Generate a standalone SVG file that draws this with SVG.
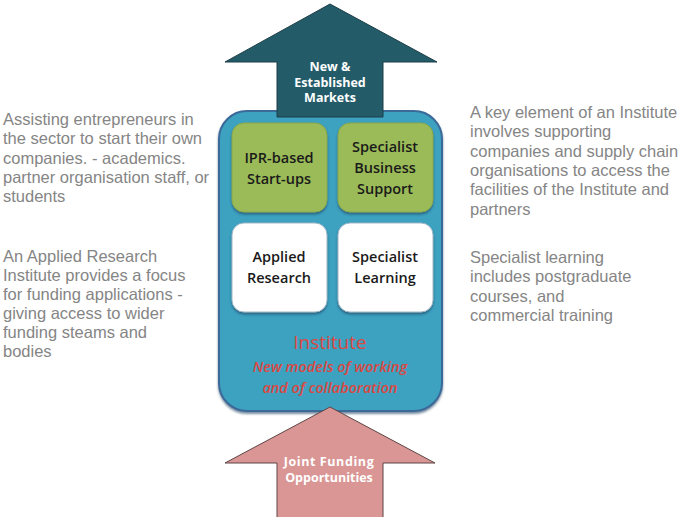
<svg xmlns="http://www.w3.org/2000/svg" width="678" height="517" viewBox="0 0 678 517">
  <style>
    .note { font-family: "Liberation Sans", Arial, sans-serif; font-size: 16.5px; fill: #858585; }
    .box-label { font-family: "Open Sans", "Noto Sans", sans-serif; font-size: 14.5px; font-weight: 600; fill: #1a1a1a; text-anchor: middle; }
    .arrow-label { font-family: "Open Sans", "Noto Sans", sans-serif; font-size: 12.5px; font-weight: 700; fill: #ffffff; text-anchor: middle; }
    .inst { font-family: "Open Sans", "Noto Sans", sans-serif; fill: #dc4842; text-anchor: middle; }
    .green { fill: #9bbb59; stroke: #87a74c; stroke-width: 1; }
    .white { fill: #ffffff; stroke: #9fb7c6; stroke-width: 1; }
  </style>
  <defs>
    <filter id="shadow" x="-10%" y="-10%" width="130%" height="130%">
      <feDropShadow dx="0" dy="2" stdDeviation="1" flood-color="#1f3f60" flood-opacity="0.6"/>
    </filter>
  </defs>

  <rect width="678" height="517" fill="#ffffff"/>

  <!-- side notes -->
  <g id="note-left-top" class="note">
    <text x="3" y="125">Assisting entrepreneurs in</text>
    <text x="3" y="144.3">the sector to start their own</text>
    <text x="3" y="163.6">companies. - academics.</text>
    <text x="3" y="183">partner organisation staff, or</text>
    <text x="3" y="202.3">students</text>
  </g>
  <g id="note-left-bottom" class="note">
    <text x="3" y="261.5">An Applied Research</text>
    <text x="3" y="280.5">Institute provides a focus</text>
    <text x="3" y="299.5">for funding applications -</text>
    <text x="3" y="318.5">giving access to wider</text>
    <text x="3" y="337.5">funding steams and</text>
    <text x="3" y="356.5">bodies</text>
  </g>
  <g id="note-right-top" class="note">
    <text x="470" y="118">A key element of an Institute</text>
    <text x="470" y="137.3">involves supporting</text>
    <text x="470" y="156.6">companies and supply chain</text>
    <text x="470" y="176">organisations to access the</text>
    <text x="470" y="195.3">facilities of the Institute and</text>
    <text x="470" y="214.6">partners</text>
  </g>
  <g id="note-right-bottom" class="note">
    <text x="470" y="263">Specialist learning</text>
    <text x="470" y="282.3">includes postgraduate</text>
    <text x="470" y="301.6">courses, and</text>
    <text x="470" y="321">commercial training</text>
  </g>

  <!-- institute container -->
  <g id="institute">
    <rect x="219" y="111" width="223" height="300" rx="28" fill="#3ea1c0" stroke="#3a6a99" stroke-width="2" filter="url(#shadow)"/>
    <text class="inst" x="330" y="349" font-size="19">Institute</text>
    <text class="inst" x="330" y="372" font-size="14.5" font-style="italic" font-weight="600">New models of working</text>
    <text class="inst" x="330" y="393" font-size="14.5" font-style="italic" font-weight="600">and of collaboration</text>
  </g>

  <!-- outgoing arrow -->
  <g id="markets">
    <polygon points="330,4 437,62 383,62 383,117 277,117 277,62 225,62" fill="#235b68" stroke="#1d3f48" stroke-width="1"/>
    <text class="arrow-label" x="330" y="71">New &amp;</text>
    <text class="arrow-label" x="330" y="86.5">Established</text>
    <text class="arrow-label" x="330" y="102">Markets</text>
  </g>

  <!-- incoming arrow -->
  <g id="funding">
    <polygon points="330,407 435,463 383,463 383,520 277,520 277,463 225,463" fill="#d99694" stroke="#5e4546" stroke-width="1"/>
    <text class="arrow-label" x="329" y="466" font-size="13" letter-spacing="0.6">Joint Funding</text>
    <text class="arrow-label" x="329" y="481.5" font-size="13">Opportunities</text>
  </g>

  <g id="ipr-startups">
    <rect class="green" x="232" y="123" width="95" height="89" rx="12" filter="url(#shadow)"/>
    <text class="box-label" x="279" y="163">IPR-based</text>
    <text class="box-label" x="279" y="184">Start-ups</text>
  </g>
  <g id="business-support">
    <rect class="green" x="338" y="123" width="95" height="89" rx="12" filter="url(#shadow)"/>
    <text class="box-label" x="385" y="152">Specialist</text>
    <text class="box-label" x="385" y="173">Business</text>
    <text class="box-label" x="385" y="194">Support</text>
  </g>
  <g id="applied-research">
    <rect class="white" x="232" y="223" width="95" height="89" rx="12" filter="url(#shadow)"/>
    <text class="box-label" x="279" y="262">Applied</text>
    <text class="box-label" x="279" y="283" font-weight="400">Research</text>
  </g>
  <g id="specialist-learning">
    <rect class="white" x="338" y="223" width="95" height="89" rx="12" filter="url(#shadow)"/>
    <text class="box-label" x="385" y="262">Specialist</text>
    <text class="box-label" x="385" y="283" font-weight="400">Learning</text>
  </g>

  <!-- no connectors: the arrows above carry the flow -->
  <g id="connectors"/>
</svg>
